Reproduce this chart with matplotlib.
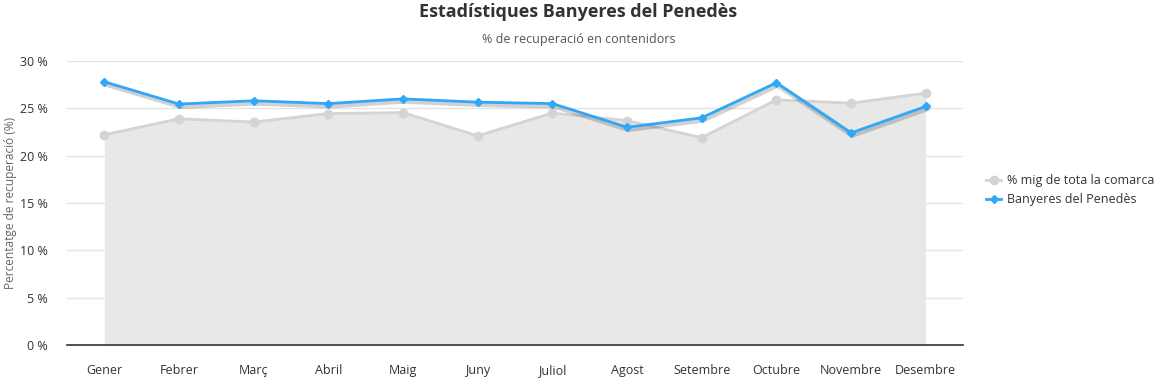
import matplotlib
matplotlib.use("Agg")
import matplotlib.pyplot as plt
import matplotlib.patheffects as pe
from matplotlib.ticker import FuncFormatter

MONTHS = ["Gener", "Febrer", "Març", "Abril", "Maig", "Juny", "Juliol",
          "Agost", "Setembre", "Octubre", "Novembre", "Desembre"]
COMARCA = [22.2, 23.9, 23.55, 24.45, 24.55, 22.1, 24.5, 23.7, 21.9, 25.9, 25.55, 26.6]
BANYERES = [27.8, 25.45, 25.8, 25.5, 26.0, 25.65, 25.5, 23.0, 24.0, 27.7, 22.4, 25.2]

plt.rcParams["font.family"] = ["Open Sans", "DejaVu Sans"]

fig = plt.figure(figsize=(11.57, 3.8), dpi=100)
ax = fig.add_axes([67 / 1157, 35 / 380, 896 / 1157, 284 / 380])

x = list(range(len(MONTHS)))
ax.fill_between(x, COMARCA, 0, color="#e8e8e8", zorder=1, linewidth=0)
ax.plot(x, COMARCA, color="#d4d4d4", lw=2, marker="o", ms=6,
        label="% mig de tota la comarca", zorder=2)
# soft shadow under the blue line (line only, no markers)
ax.plot(x, BANYERES, color="none", lw=2, zorder=2.5,
        path_effects=[pe.SimpleLineShadow(offset=(1, -1.5), shadow_color="black",
                                          alpha=0.18, linewidth=4)])
ax.plot(x, BANYERES, color="#2fa8f8", lw=2, marker="D", ms=4.5,
        label="Banyeres del Penedès", zorder=3)

ax.set_xlim(-0.5, 11.5)
ax.set_ylim(0, 30)
ax.set_yticks(range(0, 31, 5))
ax.yaxis.set_major_formatter(FuncFormatter(lambda v, p: f"{int(v)} %"))
ax.set_xticks(x)
ax.set_xticklabels(MONTHS)
ax.grid(axis="y", color="#e3e3e3", lw=1, zorder=0)
ax.set_axisbelow(True)
for s in ["top", "right", "left"]:
    ax.spines[s].set_visible(False)
ax.spines["bottom"].set_color("#333333")
ax.spines["bottom"].set_linewidth(1.2)
ax.tick_params(axis="both", length=0, labelsize=9, colors="#333333")
ax.tick_params(axis="x", pad=14)
ax.tick_params(axis="y", pad=14)
ax.set_ylabel("Percentatge de recuperació (%)", fontsize=8.6, color="#666666", labelpad=2)

fig.text(0.5, 1 - 12 / 380, "Estadístiques Banyeres del Penedès", ha="center", va="center",
         fontsize=13, fontweight="bold", color="#333333")
fig.text(0.5, 1 - 39 / 380, "% de recuperació en contenidors", ha="center", va="center",
         fontsize=9, color="#555555")

fig.legend(loc="center left", bbox_to_anchor=(975 / 1157, 1 - 190 / 380), frameon=False,
           fontsize=9, handlelength=1.2, handletextpad=0.5, labelspacing=0.5,
           labelcolor="#333333")

fig.savefig("out.png", dpi=100)
